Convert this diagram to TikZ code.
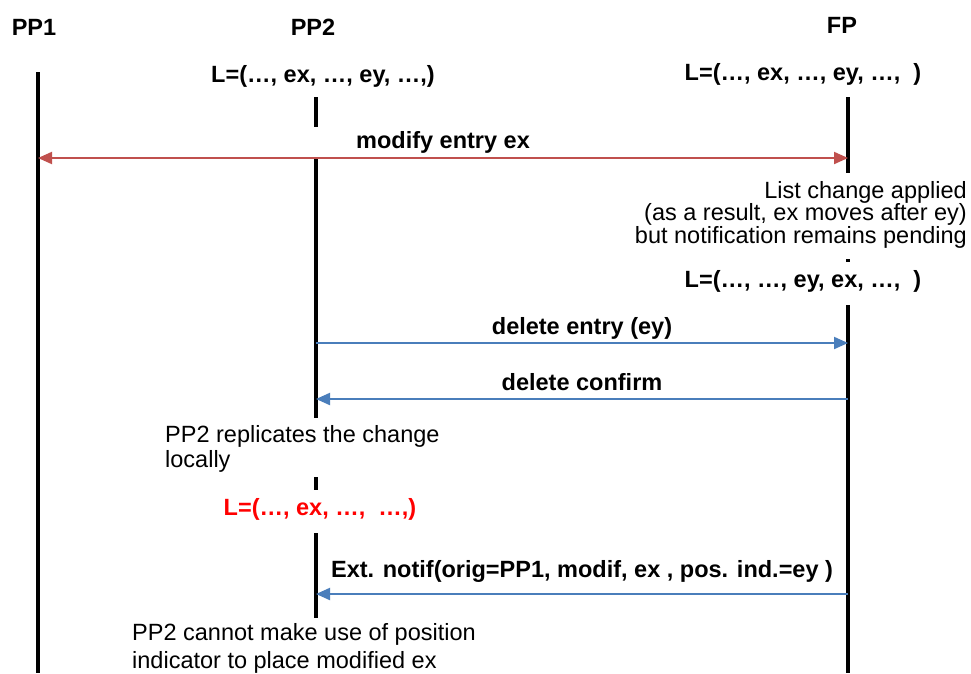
\documentclass[tikz,border=0pt]{standalone}
\usepackage{fontspec}
\setmainfont{Liberation Sans}
\usetikzlibrary{arrows.meta}
\definecolor{msgred}{HTML}{C0504D}
\definecolor{msgblue}{HTML}{4A7EBB}

\begin{document}
\begin{tikzpicture}[x=1pt,y=-1pt,
  every node/.style={inner sep=0pt,font=\fontsize{23.5}{22.5}\selectfont},
  actor/.style={anchor=base,font=\fontsize{23.5}{22.5}\selectfont\bfseries},
  listlabel/.style={anchor=base,font=\fontsize{23.5}{22.5}\selectfont\bfseries},
  msglabel/.style={midway,anchor=base,yshift=9pt,text=black,font=\fontsize{23.5}{22.5}\selectfont\bfseries},
  lifeline/.style={line width=3.5pt},
  msg/.style={line width=2pt,msgblue,-{Triangle[length=14pt,width=12pt]}}]
  \useasboundingbox (0,0) rectangle (971,673);

  % actors
  \node[actor] (pp1) at (34,35) {PP1};
  \node[actor] (pp2) at (313,35) {PP2};
  \node[actor] (fp) at (842,33) {FP};

  % lists at start
  \node[listlabel] (list-pp2) at (323,82) {L=(…, ex, …, ey, …,)};
  \node[listlabel] (list-fp) at (803,80) {L=(…, ex, …, ey, …,\ \ )};

  % lifelines
  \coordinate (pp1-top) at (38,72);
  \coordinate (pp1-end) at (38,673);
  \draw[lifeline] (pp1-top) -- (pp1-end);
  \draw[lifeline] (316,97) -- (316,127);
  \draw[lifeline] (316,158) -- (316,418);
  \draw[lifeline] (316,477) -- (316,490);
  \draw[lifeline] (316,533) -- (316,618);
  \draw[lifeline] (848,97) -- (848,173);
  \draw[lifeline] (848,259) -- (848,262);
  \draw[lifeline] (848,305) -- (848,673);

  % modify entry ex
  \coordinate (pp1-mod) at (38,158);
  \coordinate (fp-mod) at (848,158);
  \draw[msg,msgred,{Triangle[length=14pt,width=12pt]}-{Triangle[length=14pt,width=12pt]}]
    (pp1-mod) -- node[msglabel,yshift=1pt] {modify entry ex} (fp-mod);

  \node[anchor=north east,align=right] (change) at (967,181)
    {List change applied\\(as a result, ex moves after ey)\\but notification remains pending};
  \node[listlabel] (list-fp-new) at (803,287) {L=(…, …, ey, ex, …,\ \ )};

  % delete entry
  \coordinate (pp2-del) at (316,343);
  \coordinate (fp-del) at (848,343);
  \draw[msg] (pp2-del) -- node[msglabel] {delete entry (ey)} (fp-del);

  \coordinate (fp-conf) at (848,399);
  \coordinate (pp2-conf) at (316,399);
  \draw[msg] (fp-conf) -- node[msglabel] {delete confirm} (pp2-conf);

  \node[anchor=north west,align=left,font=\fontsize{23.5}{25}\selectfont] (replicate) at (165,425)
    {PP2 replicates the change\\locally};
  \node[listlabel,red] (list-pp2-new) at (320,515) {L=(…, ex, …,\ \ …,)};

  % external notification
  \coordinate (fp-notif) at (848,594);
  \coordinate (pp2-notif) at (316,594);
  \draw[msg] (fp-notif) -- node[msglabel,yshift=8pt] {Ext. notif(orig=PP1, modif, ex , pos. ind.=ey )} (pp2-notif);

  \node[anchor=north west,align=left,font=\fontsize{23.5}{28}\selectfont] (cannot) at (132,623)
    {PP2 cannot make use of position\\indicator to place modified ex};
\end{tikzpicture}
\end{document}
